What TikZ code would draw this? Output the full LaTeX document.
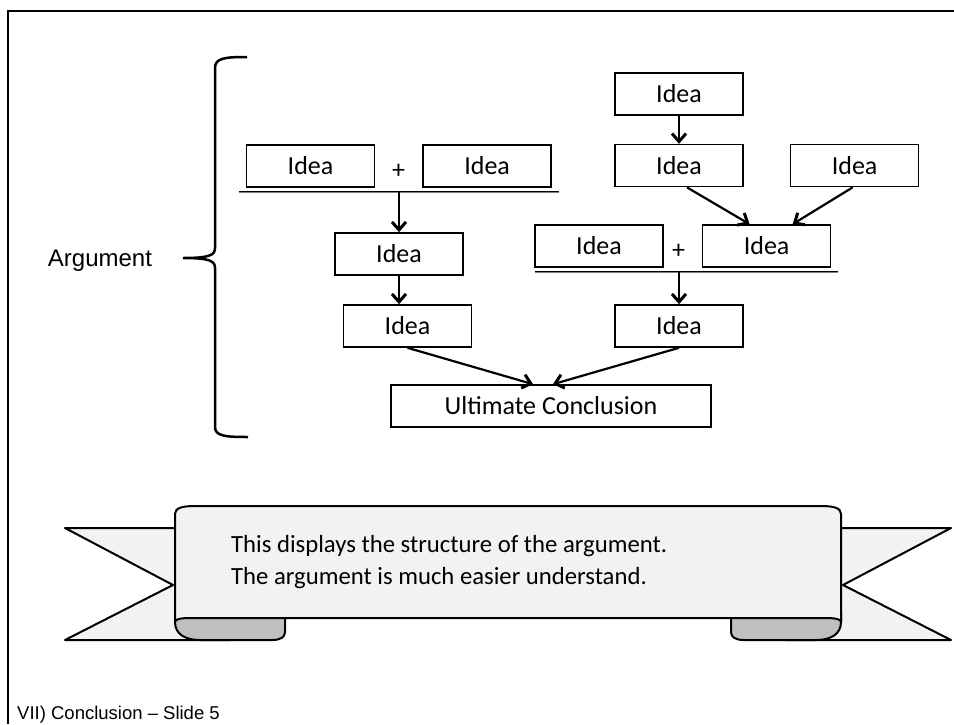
\documentclass[tikz,border=0pt]{standalone}
\usepackage{fontspec}
\setmainfont{Carlito}
\newfontfamily\arialfont{Liberation Sans}
\usetikzlibrary{positioning,arrows.meta}
\definecolor{ribbonfill}{HTML}{F2F2F2}
\definecolor{curlfill}{HTML}{BFBFBF}

\begin{document}
\begin{tikzpicture}[x=1pt, y=-1pt,
    idea/.style={draw, line width=1.6pt, minimum width=128pt, minimum height=42pt, inner sep=0pt, font=\fontsize{26}{30}\selectfont},
    plus/.style={inner sep=0pt, font=\fontsize{26}{30}\selectfont},
    sumline/.style={line width=1.4pt},
    sumshade/.style={line width=0.9pt, gray, yshift=-2.6pt},
    arr/.style={line width=2.2pt, -{Straight Barb[length=8pt,width=14pt,line width=3pt]}},
    ribbon/.style={draw, line width=2pt, fill=ribbonfill, line join=round}]
      \useasboundingbox (0,0) rectangle (954,724);
      \draw[line width=2pt] (954,11) -- (8,11) -- (8,724);

      % brace and its label
      \draw[line width=2.5pt] (247,57) .. controls (225,57) and (215,58) .. (215,68) -- (215,248)
        .. controls (215,255) and (210,258) .. (183,258) .. controls (210,258) and (215,261) .. (215,268)
        -- (215,427) .. controls (215,436) and (225,437) .. (248,437);
      \node[font=\arialfont\fontsize{24}{28}\selectfont] (argument) at (100,261) {Argument};

      % left branch
      \node[idea] (lidea1) at (310.5,166) {Idea};
      \node[idea, right=47pt of lidea1] (lidea2) {Idea};
      \node[plus] (lplus) at (398.5,171.5) {+};
      \coordinate (lbar1) at (239,192);
      \coordinate (lbar2) at (559,192);
      \coordinate (lsum) at (399,192);
      \draw[sumline] (lbar1) -- (lbar2);
      \draw[sumshade] (lbar1) -- (lbar2);
      \node[idea] (lmid) at (399,254) {Idea};
      \node[idea] (llow) at (407.5,326) {Idea};
      \draw[arr] (lsum) -- (lmid);
      \draw[arr] (lmid.south) -- (lmid.south |- llow.north);

      % right branch
      \node[idea] (rtop) at (679,94) {Idea};
      \node[idea, below=28pt of rtop] (rmid) {Idea};
      \node[idea, right=46pt of rmid] (rside) {Idea};
      \node[idea] (rleft) at (599,246) {Idea};
      \node[idea, right=38pt of rleft] (rright) {Idea};
      \node[plus] (rplus) at (678.5,251.5) {+};
      \coordinate (rbar1) at (535,272);
      \coordinate (rbar2) at (838,272);
      \coordinate (rsum) at (679,272);
      \draw[sumline] (rbar1) -- (rbar2);
      \draw[sumshade] (rbar1) -- (rbar2);
      \node[idea] (rlow) at (679,326) {Idea};
      \draw[arr] (rtop) -- (rmid);
      \draw[arr] ([xshift=8pt]rmid.south) -- ([xshift=-17pt]rright.north);
      \draw[arr] ([xshift=-2pt]rside.south) -- ([xshift=26pt]rright.north);
      \draw[arr] (rsum) -- (rlow);

      % conclusion
      \node[idea, minimum width=320pt] (goal) at (551,406) {Ultimate Conclusion};
      \draw[arr] (llow.south) -- ([xshift=-18pt]goal.north);
      \draw[arr] (rlow.south) -- ([xshift=2pt]goal.north);

      % ribbon
      \draw[ribbon] (65,528) -- (230,528) -- (230,640) -- (65,640) -- (173,585) -- cycle;
      \draw[ribbon] (951,528) -- (786,528) -- (786,640) -- (951,640) -- (843,585) -- cycle;
      \draw[ribbon, fill=curlfill] (175,612) -- (175,622) .. controls (175,634) and (185,640) .. (200,640)
        -- (272,640) .. controls (281,640) and (285,637) .. (285,632) -- (285,612) -- cycle;
      \draw[ribbon, fill=curlfill] (841,612) -- (841,622) .. controls (841,634) and (831,640) .. (816,640)
        -- (744,640) .. controls (735,640) and (731,637) .. (731,632) -- (731,612) -- cycle;
      \draw[ribbon] (175,514) .. controls (175,508) and (182,506) .. (195,506) -- (821,506)
        .. controls (834,506) and (841,508) .. (841,514) -- (841,622)
        .. controls (841,619) and (835,618) .. (825,618) -- (191,618)
        .. controls (181,618) and (175,619) .. (175,622) -- cycle;
      \node[anchor=west, align=left, inner sep=0pt, font=\fontsize{24.7}{32}\selectfont] (note) at (231,562)
        {This displays the structure of the argument.\\The argument is much easier understand.};

      \node[anchor=base west, inner sep=0pt, font=\arialfont\fontsize{18.5}{22}\selectfont] (footer) at (17,719) {VII) Conclusion – Slide 5};
    \end{tikzpicture}
\end{document}
